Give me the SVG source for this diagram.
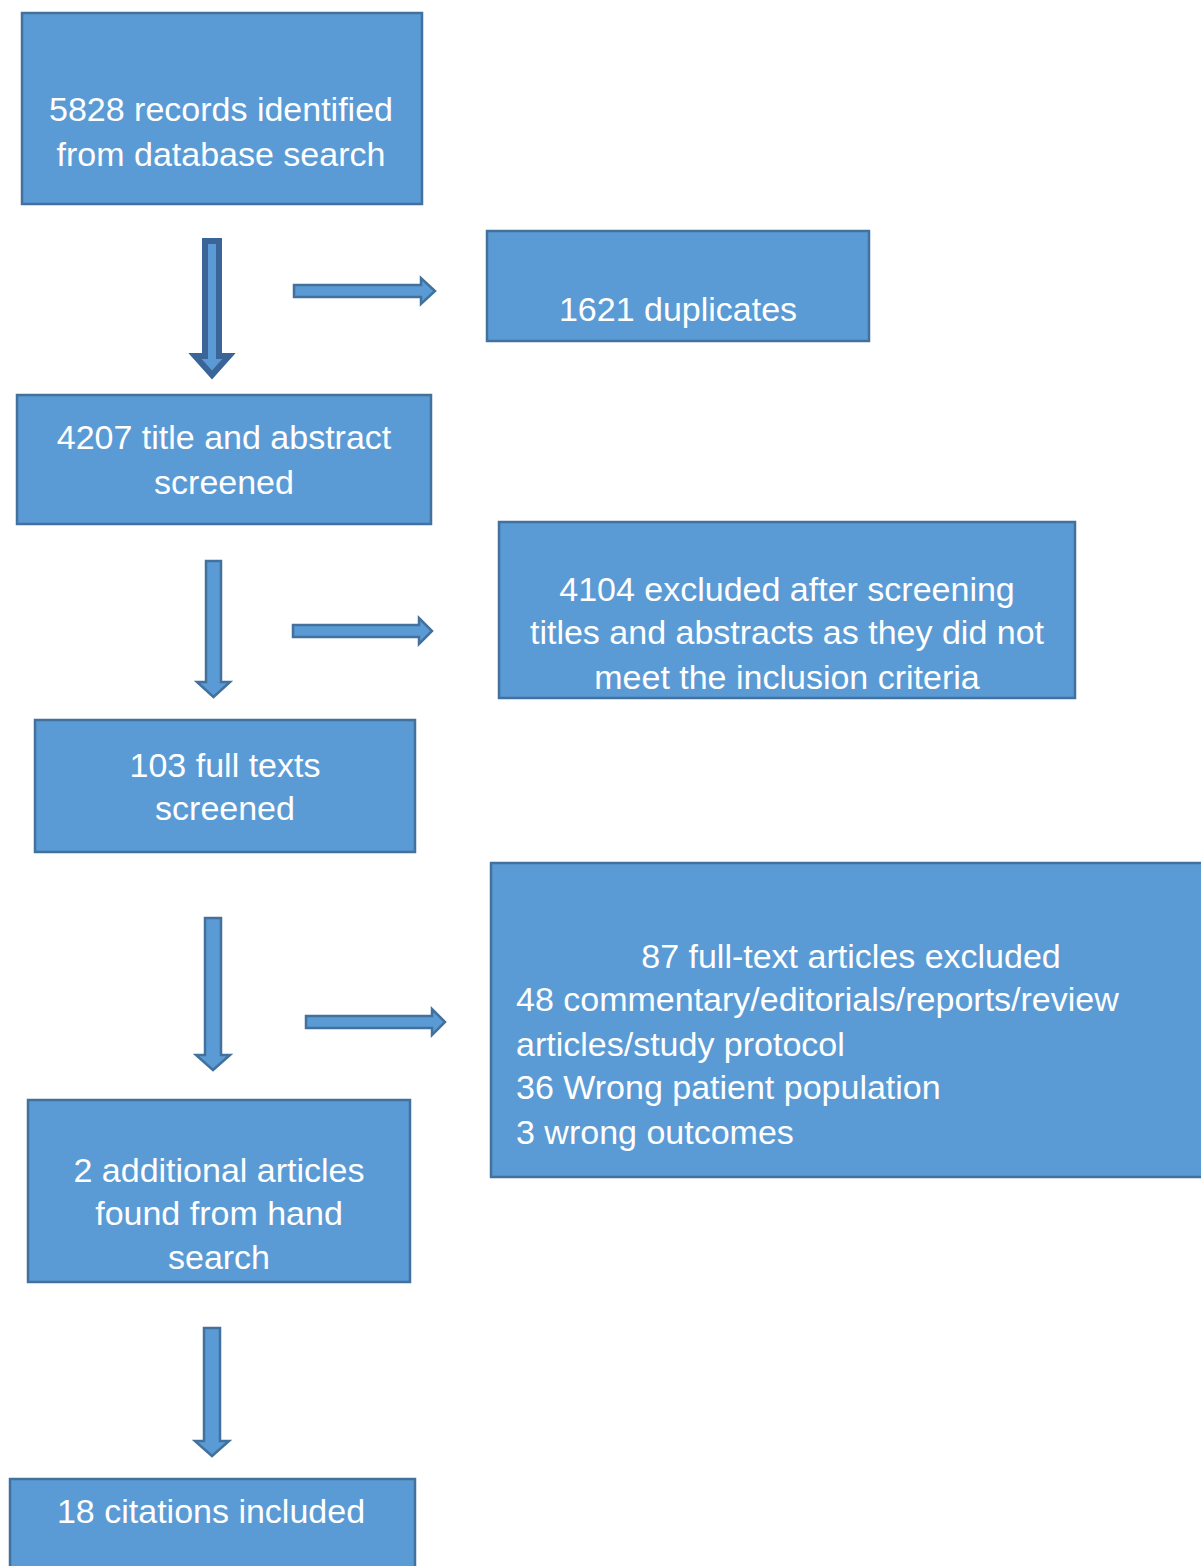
<svg xmlns="http://www.w3.org/2000/svg" width="1201" height="1566" viewBox="0 0 1201 1566">
<style>
.box{fill:#5B9BD5;stroke:#41719C;stroke-width:2.5}
.arr{fill:#5B9BD5;stroke:#41719C;stroke-width:2.5;stroke-linejoin:miter}
.dark{fill:#5B9BD5;stroke:#3B6598;stroke-width:6;stroke-linejoin:miter}
text{font-family:"Liberation Sans",Arial,sans-serif;font-size:34px;fill:#ffffff}
.c{text-anchor:middle}
</style>
<rect width="1201" height="1566" fill="#ffffff"/>
<g id="connectors">
<polygon class="dark" points="205,241 219,241 219,356 229,356 212,375 195,356 205,356"/>
<polygon class="arr" points="294,285 421,285 421,278 435,291 421,304 421,297 294,297"/>
<polygon class="arr" points="206,561 221,561 221,682 230,682 213.5,697 197,682 206,682"/>
<polygon class="arr" points="293,625 419,625 419,618 432,631 419,644 419,637 293,637"/>
<polygon class="arr" points="205,918 221,918 221,1055 230,1055 213,1070 196,1055 205,1055"/>
<polygon class="arr" points="306,1016 432,1016 432,1009 445,1022 432,1035 432,1028 306,1028"/>
<polygon class="arr" points="204,1328 220,1328 220,1441 229,1441 212,1456 195,1441 204,1441"/>
</g>
<g id="n1"><rect class="box" x="22" y="13" width="400" height="191"/>
<text class="c" x="221" y="121">5828 records identified</text>
<text class="c" x="221" y="166">from database search</text></g>
<g id="n2"><rect class="box" x="487" y="231" width="382" height="110"/>
<text class="c" x="678" y="321">1621 duplicates</text></g>
<g id="n3"><rect class="box" x="17" y="395" width="414" height="129"/>
<text class="c" x="224" y="449">4207 title and abstract</text>
<text class="c" x="224" y="494">screened</text></g>
<g id="n4"><rect class="box" x="499" y="522" width="576" height="176"/>
<text class="c" x="787" y="601">4104 excluded after screening</text>
<text class="c" x="787" y="644">titles and abstracts as they did not</text>
<text class="c" x="787" y="689">meet the inclusion criteria</text></g>
<g id="n5"><rect class="box" x="35" y="720" width="380" height="132"/>
<text class="c" x="225" y="777">103 full texts</text>
<text class="c" x="225" y="820">screened</text></g>
<g id="n6"><rect class="box" x="491" y="863" width="716" height="314"/>
<text class="c" x="851" y="968">87 full-text articles excluded</text>
<text x="516" y="1011">48 commentary/editorials/reports/review</text>
<text x="516" y="1056">articles/study protocol</text>
<text x="516" y="1099">36 Wrong patient population</text>
<text x="516" y="1144">3 wrong outcomes</text></g>
<g id="n7"><rect class="box" x="28" y="1100" width="382" height="182"/>
<text class="c" x="219" y="1182">2 additional articles</text>
<text class="c" x="219" y="1225">found from hand</text>
<text class="c" x="219" y="1269">search</text></g>
<g id="n8"><rect class="box" x="10" y="1479" width="405" height="100"/>
<text class="c" x="211" y="1523">18 citations included</text></g>
</svg>
